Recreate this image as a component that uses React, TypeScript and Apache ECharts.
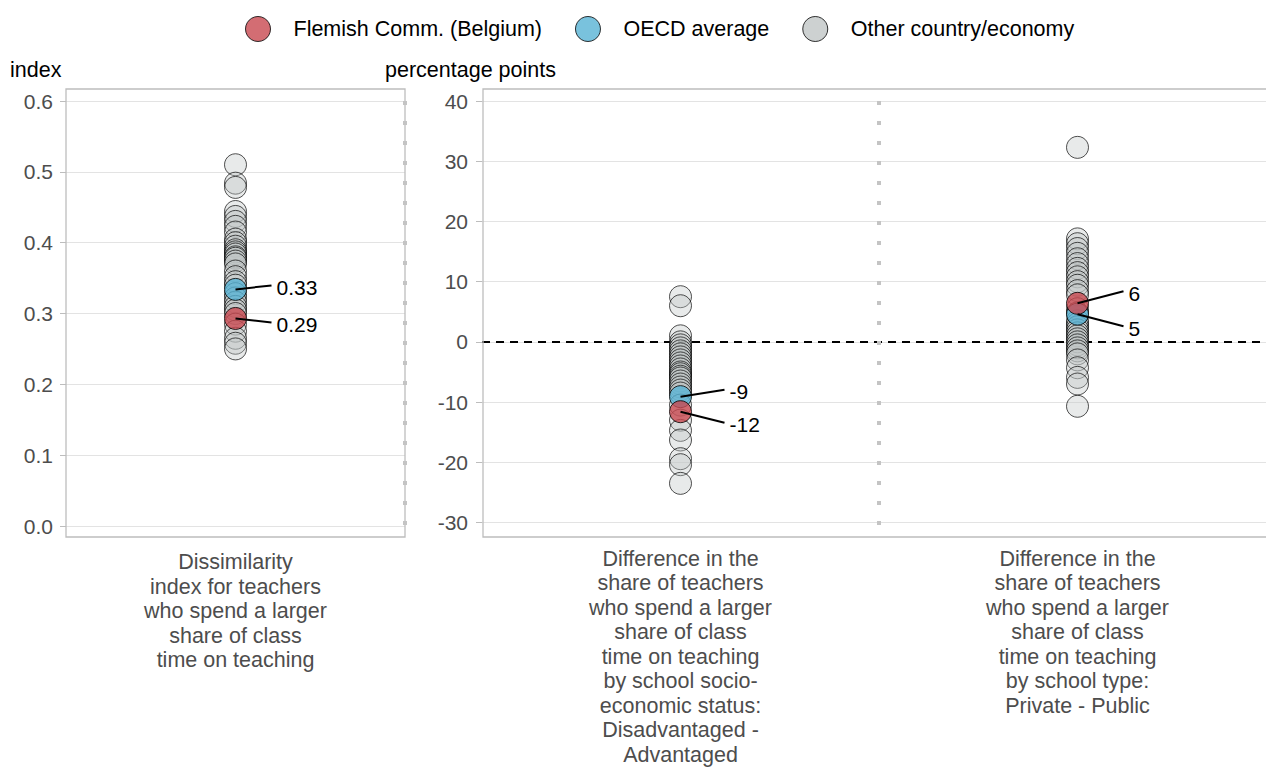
import React, { useEffect, useRef } from "react";
import * as echarts from "echarts";

const FONT = "Liberation Sans, Arial, sans-serif";

const leftCategories = [
  "Dissimilarity\nindex for teachers\nwho spend a larger\nshare of class\ntime on teaching",
];
const rightCategories = [
  "Difference in the\nshare of teachers\nwho spend a larger\nshare of class\ntime on teaching\nby school socio-\neconomic status:\nDisadvantaged -\nAdvantaged",
  "Difference in the\nshare of teachers\nwho spend a larger\nshare of class\ntime on teaching\nby school type:\nPrivate - Public",
];

const leftTicks = { min: 0, max: 0.6, interval: 0.1 };
const rightTicks = { min: -30, max: 40, interval: 10 };

// Other countries/economies
const otherDissimilarity = [
  0.51, 0.484, 0.478, 0.444, 0.437, 0.43, 0.423, 0.415, 0.405, 0.4, 0.395, 0.39,
  0.387, 0.384, 0.38, 0.378, 0.374, 0.37, 0.36, 0.352, 0.345, 0.34, 0.328,
  0.322, 0.316, 0.31, 0.305, 0.3, 0.285, 0.275, 0.265, 0.258, 0.25,
];
const otherSES = [
  7.5, 6, 1, 0, -0.5, -1, -1.5, -2, -2.5, -3, -3.5, -4, -4.5, -5, -5.3, -5.7,
  -6, -6.5, -7, -7.5, -8, -8.5, -10.5, -13, -14.7, -16.3, -19.4, -20.4, -23.5,
];
const otherType = [
  32.3, 17.1, 16.3, 15.5, 14.7, 13.8, 13, 12.2, 11.5, 10.8, 10, 9.4, 8.5, 7.8,
  5.5, 4.8, 3.5, 3, 2.5, 2, 1.5, 1, 0.5, 0, -0.5, -1, -1.5, -2, -3, -4.3, -5.9,
  -7, -10.7,
];

const flemish = [0.293, -11.6, 6.4];
const oecd = [0.334, -9.1, 4.6];

const seriesNames = ["Flemish Comm. (Belgium)", "OECD average", "Other country/economy"];
const colors = { flemish: "#c84950", oecd: "#57b3d5", other: "#c0c6c6" };

const P0 = { x: 66, y: 89, w: 339, h: 448 };
const P1 = { x: 483, y: 89, w: 820, h: 448 };

export default function App() {
  const ref = useRef<HTMLDivElement>(null);

  useEffect(() => {
    document.body.style.margin = "0";
    document.body.style.overflow = "hidden";
    const chart = echarts.init(ref.current!, null, { renderer: "svg" });

    const symbolSize = 22;
    const otherStyle = {
      color: "rgba(190,197,197,0.45)",
      borderColor: "rgba(0,0,0,0.85)",
      borderWidth: 1,
    };
    const solid = (c: string) => ({ color: c, borderColor: "#000", borderWidth: 1 });

    const yLabel = { fontSize: 21, color: "#4d4d4d", fontFamily: FONT, margin: 13 };
    const xLabel = {
      interval: 0,
      fontSize: 21.5,
      lineHeight: 24.5,
      color: "#4d4d4d",
      fontFamily: FONT,
      margin: 24,
      verticalAlign: "top" as const,
    };

    chart.setOption({
      animation: false,
      legend: {
        top: 11,
        left: 240,
        itemWidth: 25,
        itemHeight: 25,
        itemGap: 33,
        icon: "circle",
        textStyle: { fontSize: 21.5, color: "#000", fontFamily: FONT, padding: [0, 0, 0, 18] },
        data: [
          { name: seriesNames[0], itemStyle: { color: colors.flemish, borderColor: "#000", borderWidth: 1 } },
          { name: seriesNames[1], itemStyle: { color: colors.oecd, borderColor: "#000", borderWidth: 1 } },
          { name: seriesNames[2], itemStyle: { color: colors.other, borderColor: "#000", borderWidth: 1 } },
        ],
      },
      grid: [
        { left: P0.x, top: 101, width: P0.w, height: 425 },
        { left: 482, top: 101, width: 794, height: 425 },
      ],
      xAxis: [
        {
          type: "category",
          gridIndex: 0,
          data: leftCategories,
          axisLine: { show: false },
          axisTick: { show: false },
          axisLabel: xLabel,
        },
        {
          type: "category",
          gridIndex: 1,
          data: rightCategories,
          axisLine: { show: false },
          axisTick: { show: false },
          axisLabel: xLabel,
        },
      ],
      yAxis: [
        {
          type: "value",
          gridIndex: 0,
          ...leftTicks,
          axisLine: { show: false },
          axisTick: { show: true, length: 6, lineStyle: { color: "#bdbdbd" } },
          axisLabel: { ...yLabel, formatter: (v: number) => v.toFixed(1) },
          splitLine: { lineStyle: { color: "#e3e3e3", width: 1 } },
        },
        {
          type: "value",
          gridIndex: 1,
          ...rightTicks,
          axisLine: { show: false },
          axisTick: { show: true, length: 6, lineStyle: { color: "#bdbdbd" } },
          axisLabel: { ...yLabel, margin: 14 },
          splitLine: { lineStyle: { color: "#e3e3e3", width: 1 } },
        },
      ],
      series: [
        {
          name: seriesNames[2],
          type: "scatter",
          xAxisIndex: 0,
          yAxisIndex: 0,
          symbolSize,
          itemStyle: otherStyle,
          data: otherDissimilarity.map((v) => [0, v]),
          z: 2,
        },
        {
          name: seriesNames[2],
          type: "scatter",
          xAxisIndex: 1,
          yAxisIndex: 1,
          symbolSize,
          itemStyle: otherStyle,
          data: [...otherSES.map((v) => [0, v]), ...otherType.map((v) => [1, v])],
          z: 2,
          markLine: {
            silent: true,
            symbol: ["none", "none"],
            label: { show: false },
            lineStyle: { color: "#000", type: [8, 6], width: 2 },
            data: [{ yAxis: 0 }],
            z: 1,
          },
        },
        {
          name: seriesNames[1],
          type: "scatter",
          xAxisIndex: 0,
          yAxisIndex: 0,
          symbolSize,
          itemStyle: solid(colors.oecd),
          data: [[0, oecd[0]]],
          z: 3,
        },
        {
          name: seriesNames[1],
          type: "scatter",
          xAxisIndex: 1,
          yAxisIndex: 1,
          symbolSize,
          itemStyle: solid(colors.oecd),
          data: [[0, oecd[1]], [1, oecd[2]]],
          z: 3,
        },
        {
          name: seriesNames[0],
          type: "scatter",
          xAxisIndex: 0,
          yAxisIndex: 0,
          symbolSize,
          itemStyle: solid(colors.flemish),
          data: [[0, flemish[0]]],
          z: 4,
        },
        {
          name: seriesNames[0],
          type: "scatter",
          xAxisIndex: 1,
          yAxisIndex: 1,
          symbolSize,
          itemStyle: solid(colors.flemish),
          data: [[0, flemish[1]], [1, flemish[2]]],
          z: 4,
        },
      ],
    });

    // Annotations computed from the chart's scales
    const graphics: any[] = [];
    const px = (g: number, x: number, y: number) =>
      chart.convertToPixel({ xAxisIndex: g, yAxisIndex: g }, [x, y]) as number[];

    // panel boxes
    graphics.push({
      type: "rect",
      shape: { x: P0.x, y: P0.y, width: P0.w, height: P0.h },
      style: { fill: "none", stroke: "#bdbdbd", lineWidth: 1.3 },
      z: 1,
    });
    graphics.push({
      type: "rect",
      shape: { x: P1.x, y: P1.y, width: P1.w, height: P1.h },
      style: { fill: "none", stroke: "#bdbdbd", lineWidth: 1.3 },
      z: 1,
    });
    // dotted separators
    const a = px(1, 0, 0)[0];
    const b = px(1, 1, 0)[0];
    const mid = (a + b) / 2;
    [P0.x + P0.w, mid].forEach((x) => {
      graphics.push({
        type: "line",
        shape: { x1: x, y1: P0.y + 12, x2: x, y2: P0.y + P0.h },
        style: { stroke: "#c4c4c4", lineWidth: 4, lineDash: [4, 16] },
        z: 1,
      });
    });

    // axis titles
    graphics.push({
      type: "text",
      x: 10,
      y: 70,
      style: { text: "index", fontSize: 21.5, fill: "#000", fontFamily: FONT, verticalAlign: "middle" },
    });
    graphics.push({
      type: "text",
      x: 385,
      y: 70,
      style: { text: "percentage points", fontSize: 21.5, fill: "#000", fontFamily: FONT, verticalAlign: "middle" },
    });

    // value labels with leader lines
    const labelFor = (
      g: number,
      cat: number,
      v: number,
      text: string,
      dx: number,
      dy: number
    ) => {
      const [x, y] = px(g, cat, v);
      graphics.push({
        type: "line",
        shape: { x1: x, y1: y, x2: x + dx, y2: y + dy },
        style: { stroke: "#000", lineWidth: 2 },
        z: 10,
      });
      graphics.push({
        type: "text",
        x: x + dx + 5,
        y: y + dy + 2,
        style: { text, fontSize: 21, fill: "#000", fontFamily: FONT, verticalAlign: "middle" },
        z: 10,
      });
    };
    labelFor(0, 0, oecd[0], oecd[0].toFixed(2), 36, -4);
    labelFor(0, 0, flemish[0], flemish[0].toFixed(2), 36, 4);
    labelFor(1, 0, oecd[1], String(Math.round(oecd[1])), 44, -7);
    labelFor(1, 0, flemish[1], String(Math.round(flemish[1])), 44, 11);
    labelFor(1, 1, flemish[2], String(Math.round(flemish[2])), 46, -12);
    labelFor(1, 1, oecd[2], String(Math.round(oecd[2])), 46, 12);

    chart.setOption({ graphic: graphics });

    return () => chart.dispose();
  }, []);

  return <div ref={ref} style={{ width: 1300, height: 767 }} />;
}
